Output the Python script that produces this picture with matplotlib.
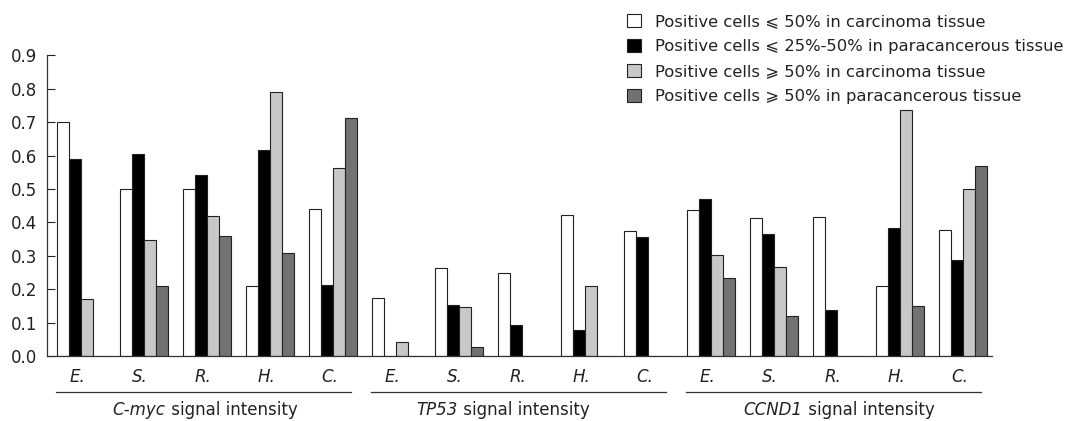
import matplotlib
matplotlib.use("Agg")
import matplotlib.pyplot as plt
from matplotlib.patches import Patch
from matplotlib.lines import Line2D
import matplotlib.transforms as mtrans
import numpy as np

plt.rcParams['font.family'] = ['DejaVu Sans', 'Noto Sans']

genes = ["C-myc", "TP53", "CCND1"]
categories = ["E.", "S.", "R.", "H.", "C."]
series_labels = [
    "Positive cells \u2a7d 50% in carcinoma tissue",
    "Positive cells \u2a7d 25%-50% in paracancerous tissue",
    "Positive cells \u2a7e 50% in carcinoma tissue",
    "Positive cells \u2a7e 50% in paracancerous tissue",
]
# values per series, 15 groups (C-myc E..C, TP53 E..C, CCND1 E..C)
carc_le50 = [0.70, 0.50, 0.50, 0.21, 0.44,
             0.174, 0.264, 0.248, 0.422, 0.375,
             0.436, 0.413, 0.417, 0.210, 0.376]
para_25_50 = [0.591, 0.605, 0.543, 0.618, 0.213,
              0.0, 0.154, 0.092, 0.078, 0.357,
              0.470, 0.364, 0.138, 0.383, 0.287]
carc_ge50 = [0.172, 0.346, 0.418, 0.789, 0.564,
             0.041, 0.146, 0.0, 0.210, 0.0,
             0.302, 0.265, 0.0, 0.735, 0.500]
para_ge50 = [0.0, 0.210, 0.358, 0.307, 0.712,
             0.0, 0.026, 0.0, 0.0, 0.0,
             0.233, 0.119, 0.0, 0.149, 0.570]
series = [carc_le50, para_25_50, carc_ge50, para_ge50]
colors = ["#ffffff", "#000000", "#c8c8c8", "#727272"]
yticks = [0.0, 0.1, 0.2, 0.3, 0.4, 0.5, 0.6, 0.7, 0.8, 0.9]

W, H = 1073, 421
fig = plt.figure(figsize=(W / 100, H / 100), dpi=100)
ax = fig.add_axes([47 / W, 1 - 356 / H, (992 - 47) / W, (356 - 55.3) / H])

n = len(genes) * len(categories)
x = np.arange(n)
bw = 0.19
for k, (vals, col) in enumerate(zip(series, colors)):
    ax.bar(x + (k - 1.5) * bw, vals, width=bw, color=col,
           edgecolor="#222222", linewidth=0.8, zorder=2)

ax.set_xlim(-0.54, n - 0.54)
ax.set_ylim(0, 0.9)
ax.set_yticks(yticks)
ax.set_yticklabels([f"{v:.1f}" for v in yticks], fontsize=12, color="#222222")
ax.tick_params(axis='y', direction='in', length=6, width=0.8, pad=7, colors="#222222")
ax.tick_params(axis='x', length=0)
ax.set_xticks([])
for s in ["top", "right"]:
    ax.spines[s].set_visible(False)
for s in ["left", "bottom"]:
    ax.spines[s].set_linewidth(0.9)
    ax.spines[s].set_color("#333333")

tr = mtrans.blended_transform_factory(ax.transData, fig.transFigure)
labels_all = categories * len(genes)
for i, lab in enumerate(labels_all):
    ax.text(i - 0.06, 1 - 377 / H, lab, transform=tr, ha="center", va="center",
            fontsize=12, style="italic", color="#222222")

renderer = fig.canvas.get_renderer()
title_centers = [205, 503, 839]
for g, gene in enumerate(genes):
    x0 = 5 * g - 0.39
    x1 = 5 * g + 4 + 0.29
    ax.add_line(Line2D([x0, x1], [1 - 392 / H, 1 - 392 / H], transform=tr,
                       color="#333333", linewidth=0.9, clip_on=False))
    t1 = fig.text(0, 0, gene, fontsize=12, style="italic", color="#222222")
    t2 = fig.text(0, 0, " signal intensity", fontsize=12, color="#222222")
    w1 = t1.get_window_extent(renderer).width
    w2 = t2.get_window_extent(renderer).width
    left = title_centers[g] - (w1 + w2) / 2
    yc = 1 - 410 / H
    t1.set_position((left / W, yc))
    t1.set_va("center")
    t2.set_position(((left + w1) / W, yc))
    t2.set_va("center")

handles = [Patch(facecolor=c, edgecolor="#222222", linewidth=0.8) for c in colors]
fig.legend(handles, series_labels, loc="upper left",
           bbox_to_anchor=(627 / W, 1 - 14 / H), frameon=False,
           fontsize=11.8, handlelength=0.85, handleheight=0.85,
           handletextpad=0.85, labelspacing=0.6, borderpad=0, borderaxespad=0,
           labelcolor="#222222")

fig.savefig("out.png", dpi=100)
